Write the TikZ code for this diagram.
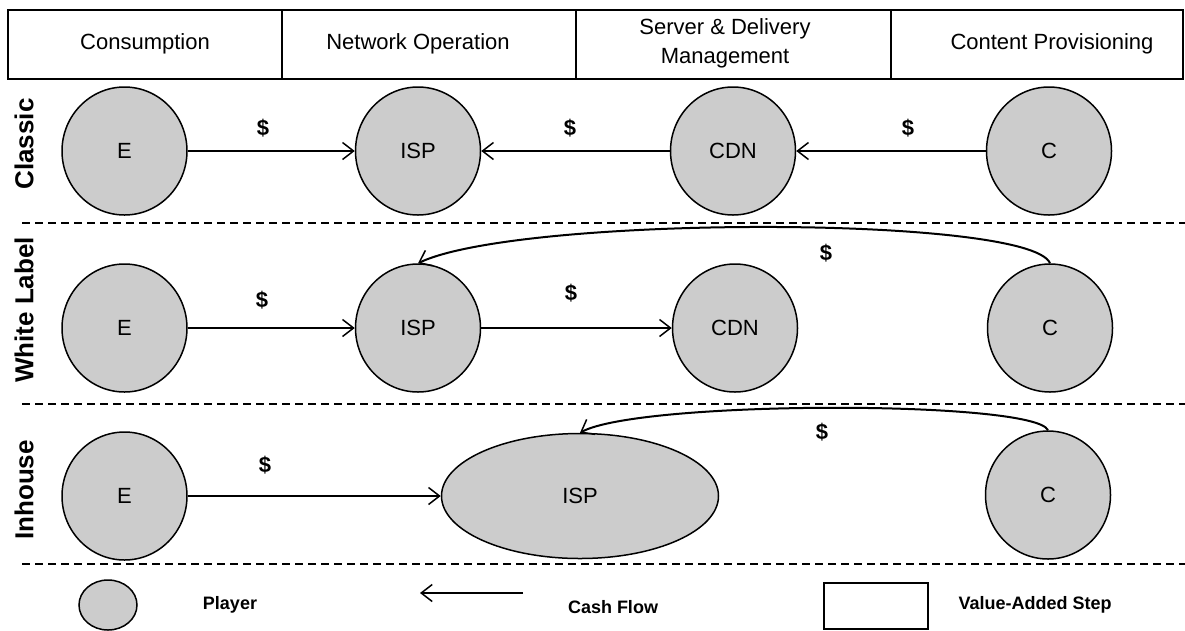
\documentclass[tikz,border=0pt]{standalone}
\usepackage{fontspec}
\setmainfont{Liberation Sans}
\usetikzlibrary{shapes.geometric,arrows.meta}
\definecolor{pfill}{RGB}{204,204,204}
\begin{document}
\begin{tikzpicture}[x=1pt,y=-1pt,
  player/.style={ellipse, draw=black, line width=1.5pt, fill=pfill, minimum width=125pt, minimum height=128pt, inner sep=0pt, font=\fontsize{22}{24}\selectfont},
  flow/.style={line width=2pt, -{Straight Barb[length=11pt,width=17pt,line width=1.5pt]}},
  dollar/.style={font=\fontsize{22}{24}\selectfont\bfseries},
  sepline/.style={line width=2.5pt, dash pattern=on 8pt off 5pt},
  hdr/.style={font=\fontsize{22}{29}\selectfont, align=center},
  rowlab/.style={font=\fontsize{26}{28}\selectfont\bfseries, rotate=90},
  legtext/.style={font=\fontsize{18}{20}\selectfont\bfseries},
  frame/.style={line width=2.5pt}
]
\useasboundingbox (0,0) rectangle (1185,630);

% header
\draw[frame] (8,10) rectangle (1183,79);
\draw[frame] (282,10) -- (282,79);
\draw[frame] (576,10) -- (576,79);
\draw[frame] (891,10) -- (891,79);
\node[hdr] (h1) at (145,44) {Consumption};
\node[hdr] (h2) at (418,44) {Network Operation};
\node[hdr] (h3) at (725,43) {Server \& Delivery\\Management};
\node[hdr] (h4) at (1052,44) {Content Provisioning};

% row labels
\node[rowlab] (r1) at (24,144) {Classic};
\node[rowlab] (r2) at (24,310) {White Label};
\node[rowlab] (r3) at (24,490) {Inhouse};

% separators
\coordinate (s1a) at (22,223); \coordinate (s1b) at (1185,223);
\coordinate (s2a) at (22,404); \coordinate (s2b) at (1185,404);
\coordinate (s3a) at (22,564); \coordinate (s3b) at (1185,564);
\draw[sepline] (s1a) -- (s1b);
\draw[sepline] (s2a) -- (s2b);
\draw[sepline] (s3a) -- (s3b);

% Classic
\node[player] (E1) at (124.5,151) {E};
\node[player] (ISP1) at (418,151) {ISP};
\node[player] (CDN1) at (733,151) {CDN};
\node[player] (C1) at (1049,151) {C};
\draw[flow] (E1) -- (ISP1);
\draw[flow] (CDN1) -- (ISP1);
\draw[flow] (C1) -- (CDN1);
\node[dollar] (d1) at (263,128) {\$};
\node[dollar] (d2) at (570,128) {\$};
\node[dollar] (d3) at (908,128) {\$};

% White Label
\node[player] (E2) at (124.5,328) {E};
\node[player] (ISP2) at (418,328) {ISP};
\node[player] (CDN2) at (735,328) {CDN};
\node[player] (C2) at (1050,328) {C};
\draw[flow] (E2) -- (ISP2);
\draw[flow] (ISP2) -- (CDN2);
\draw[flow] (C2.north) .. controls (1030,215) and (520,215) .. (ISP2.north);
\node[dollar] (d4) at (262,300) {\$};
\node[dollar] (d5) at (571,293) {\$};
\node[dollar] (d6) at (826,253) {\$};

% Inhouse
\node[player] (E3) at (124.5,496) {E};
\node[player, minimum width=277pt, minimum height=125pt] (ISP3) at (580,496) {ISP};
\node[player] (C3) at (1048,495) {C};
\draw[flow] (E3) -- (ISP3);
\draw[flow] (C3.north) .. controls (1035,400) and (640,400) .. (ISP3.north);
\node[dollar] (d7) at (265,465) {\$};
\node[dollar] (d8) at (822,432) {\$};

% legend
\node[player, minimum width=58pt, minimum height=50pt] (LP) at (108,605) {};
\node[legtext] (LPt) at (230,605) {Player};
\coordinate (la1) at (523,593);
\coordinate (la2) at (420,593);
\draw[flow] (la1) -- (la2);
\node[legtext] (LAt) at (613,607) {Cash Flow};
\node[draw, line width=2pt, minimum width=104pt, minimum height=46pt, inner sep=0pt] (LB) at (876,606) {};
\node[legtext] (LBt) at (1035,605) {Value-Added Step};
\end{tikzpicture}
\end{document}
